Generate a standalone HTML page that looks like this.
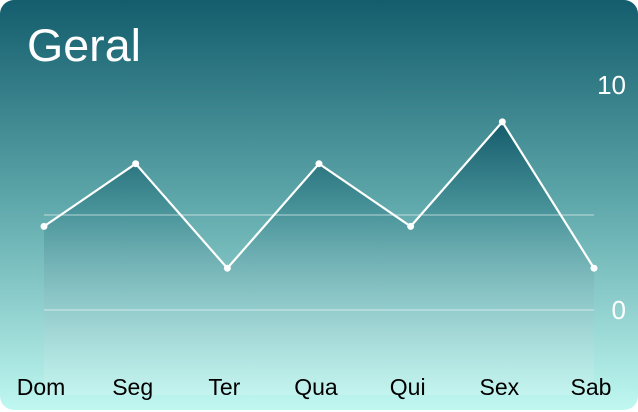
<!DOCTYPE html>
<html><head><meta charset="utf-8"><style>
html,body{margin:0;padding:0;background:#fff;width:638px;height:412px;overflow:hidden}
svg{display:block;font-family:"Liberation Sans",sans-serif}
</style></head><body>
<svg id="chart" width="638" height="412" viewBox="0 0 638 412">
<defs>
<linearGradient id="bg" x1="0" y1="0" x2="0" y2="1">
<stop offset="0" stop-color="#135d6d"/><stop offset="0.5" stop-color="#5fa8ab"/><stop offset="1" stop-color="#c0f8f1"/>
</linearGradient>
<linearGradient id="fill" gradientUnits="userSpaceOnUse" x1="0" y1="120" x2="0" y2="395">
<stop offset="0" stop-color="#0f5566" stop-opacity="0.9"/><stop offset="0.35" stop-color="#2f7c86" stop-opacity="0.45"/><stop offset="1" stop-color="#ffffff" stop-opacity="0.15"/>
</linearGradient>
</defs>
<rect x="0" y="0" width="638" height="410" rx="14" fill="url(#bg)"/>
<text x="27" y="61" font-size="45" fill="#fff" textLength="114" lengthAdjust="spacingAndGlyphs">Geral</text>
<g id="plot"></g>
</svg>
<script>
const categories=["Dom","Seg","Ter","Qua","Qui","Sex","Sab"];
const values=[4.4,7.7,2.2,7.7,4.4,9.9,2.2];
const gridValues=[0,5];
const tickLabels=["0","10"];
const tickValues=[0,10];
const NS="http://www.w3.org/2000/svg";
const x0=44,x1=594,y0=310,yPer=19;
function xs(i){return x0+(x1-x0)*i/(categories.length-1);}
function ys(v){return y0-v*yPer;}
const g=document.getElementById('plot');
function mk(t,a){const e=document.createElementNS(NS,t);for(const k in a)e.setAttribute(k,a[k]);g.appendChild(e);return e;}
let d='M'+xs(0)+','+ys(values[0]);
values.forEach((v,i)=>{if(i)d+=' L'+xs(i)+','+ys(v);});
const area=mk('path',{d:d+' L'+xs(values.length-1)+',395 L'+xs(0)+',395 Z',fill:'url(#fill)'});


gridValues.forEach(v=>{const l=mk('line',{x1:x0,x2:x1,y1:ys(v),y2:ys(v),stroke:'#fff','stroke-opacity':0.4,'stroke-width':1.5});

});
const line=mk('path',{d:d,fill:'none',stroke:'#fff','stroke-width':2.2});


values.forEach((v,i)=>{const c=mk('circle',{cx:xs(i),cy:ys(v),r:3.5,fill:'#fff'});


const t=mk('text',{x:xs(i)-3,y:395,'font-size':23,fill:'#000','text-anchor':'middle'});t.textContent=categories[i];

});
tickValues.forEach((v,i)=>{const yy=v===0?ys(v)+9:ys(v)-26;
const t=mk('text',{x:626,y:yy,'font-size':26,fill:'#fff','text-anchor':'end'});t.textContent=tickLabels[i];

});
</script>
</body></html>
